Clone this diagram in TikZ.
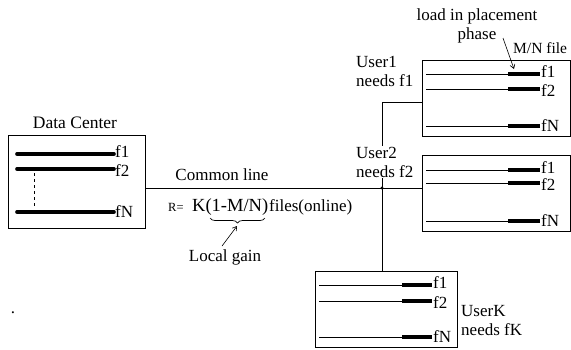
\documentclass[tikz,border=0pt]{standalone}
\usepackage{fontspec}
\setmainfont{Liberation Serif}
\usetikzlibrary{decorations.pathreplacing,arrows.meta}
\begin{document}
\begin{tikzpicture}[x=1pt,y=-1pt,
  every node/.style={font=\fontsize{17}{19}\selectfont, inner sep=1pt},
  box/.style={draw, line width=0.9pt, inner sep=0pt},
  thinline/.style={line width=0.9pt},
  thickline/.style={line width=3.6pt},
  conn/.style={line width=0.9pt},
  flabel/.style={anchor=west, inner sep=0pt},
  ulabel/.style={align=left, anchor=west},
  ptr/.style={-{Straight Barb[length=4pt,width=5pt]}, line width=0.6pt}
]
\useasboundingbox (0,0) rectangle (571,349);

% Data center
\node[box, minimum width=137pt, minimum height=93pt] (dc) at (76.5,181.5) {};
\node[font=\fontsize{17.5}{19}\selectfont] (dct) at (75,123) {Data Center};
\foreach \y/\n/\t/\d in {154/a/f1/-2,169/b/f2/2,212/c/fN/0} {
  \draw[thickline, line cap=round] (17,\y) -- (114,\y);
  \node[flabel] (dc\n) at (115,\y+\d) {\t};
}
\draw[dashed, line width=0.6pt] (34,173) -- (34,209);

% user boxes
\node[box, minimum width=148pt, minimum height=76pt] (u1) at (496,98) {};
\node[box, minimum width=148pt, minimum height=76pt] (u2) at (496,193) {};
\node[box, minimum width=142pt, minimum height=76pt] (uk) at (386,309) {};

\foreach \bx/\xa/\xb/\xc/\ya/\yb/\yc in {u1/426/508/540/74/89/126, u2/426/508/540/170/183/221, uk/319/402/432/285/301/337} {
  \foreach \y/\t/\n/\d in {\ya/f1/a/-2,\yb/f2/b/2,\yc/fN/c/0} {
    \draw[thinline] (\xa,\y) -- (\xb,\y);
    \draw[thickline] (\xb,\y) -- (\xc,\y);
    \node[flabel] (\bx\n) at (\xc+1,\y+\d) {\t};
  }
}

% user labels
\node[ulabel] (u1l) at (355,71) {User1\\needs f1};
\node[ulabel] (u2l) at (355,162) {User2\\needs f2};
\node[ulabel] (ukl) at (460,321) {UserK\\needs fK};

% load label
\node[align=center] (load) at (477,26) {load in placement\\phase};
\node[anchor=west, inner sep=0pt, font=\fontsize{15.5}{17}\selectfont] (mn) at (513,48) {M/N file};
\coordinate (la) at (503,38);
\coordinate (lb) at (514,69);
\draw[ptr] (la) -- (lb);

% connectors
\coordinate (j) at (382,188);
\coordinate (c1) at (382,102);
\draw[conn] (j -| dc.east) -- (j -| u2.west);
\draw[conn] (c1 -| u1.west) -- (c1) -- (c1 |- u2l.north);
\draw[conn] (c1 |- u2l.south) -- (j |- uk.north);
\fill (j) circle (1.6);

% common line text
\node (cl) at (222,175) {Common line};
\node[anchor=base west, font=\fontsize{12.5}{14}\selectfont] (req) at (167,211) {R=};
\node[anchor=base west, font=\fontsize{18.5}{20}\selectfont, inner sep=0pt] (kx) at (192,211) {K(1-M/N)};
\node[anchor=base west] (fl) at (268,211) {files(online)};
\coordinate (bl) at (210,218);
\coordinate (br) at (265,218);
\draw[decorate, decoration={brace, amplitude=5pt}, line width=0.7pt] (br) -- (bl);
\coordinate (bt) at (237,226);
\node (lg) at (225,257) {Local gain};
\coordinate (lgt) at (222,246);
\draw[ptr] (lgt) -- (bt);

\node (dot) at (13,313) {.};
\end{tikzpicture}
\end{document}
